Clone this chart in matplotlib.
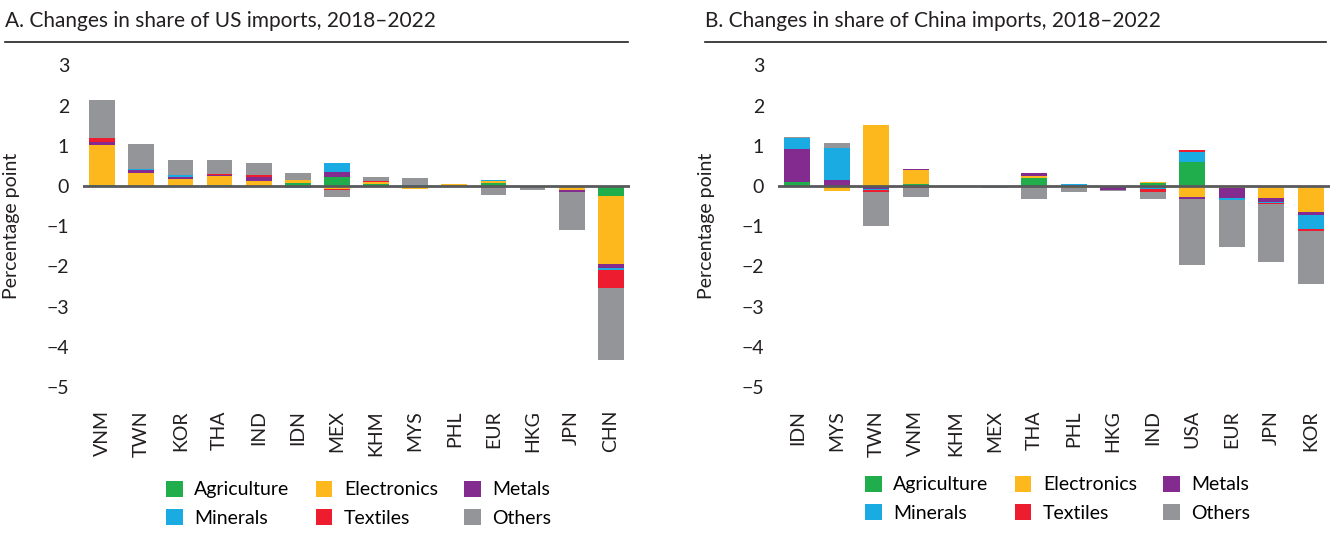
import numpy as np
import matplotlib
matplotlib.use("Agg")
import matplotlib.pyplot as plt
from matplotlib.patches import Patch
from matplotlib.lines import Line2D

plt.rcParams['font.family'] = ['Lato', 'DejaVu Sans']
plt.rcParams['axes.unicode_minus'] = True

sectors = ['Agriculture', 'Electronics', 'Metals', 'Minerals', 'Textiles', 'Others']
colors = ['#1fae4b', '#fdb81e', '#832b8f', '#1aabe2', '#ed1c2e', '#939598']

# panel A: changes in share of US imports (percentage points)
us_partners = ['VNM', 'TWN', 'KOR', 'THA', 'IND', 'IDN', 'MEX', 'KHM', 'MYS', 'PHL', 'EUR', 'HKG', 'JPN', 'CHN']
us_agri     = [0.02, 0.00, 0.00, 0.02, 0.00, 0.07, 0.21, 0.06, 0.00, 0.00, 0.08, 0.00, 0.01, -0.26]
us_elec     = [1.00, 0.33, 0.17, 0.22, 0.12, 0.08, -0.07, 0.03, -0.07, 0.04, 0.04, -0.02, -0.09, -1.69]
us_metals   = [0.07, 0.06, 0.06, 0.04, 0.10, 0.00, 0.14, 0.00, 0.00, 0.00, 0.00, 0.00, -0.05, -0.08]
us_minerals = [0.00, 0.02, 0.05, 0.00, 0.00, -0.04, 0.21, -0.02, 0.03, 0.00, 0.03, 0.00, 0.00, -0.05]
us_textiles = [0.10, 0.00, 0.00, 0.01, 0.04, 0.00, -0.03, 0.04, 0.00, 0.00, 0.00, 0.00, 0.00, -0.45]
us_others   = [0.95, 0.64, 0.36, 0.35, 0.31, 0.17, -0.18, 0.09, 0.17, -0.02, -0.23, -0.08, -0.96, -1.80]

# panel B: changes in share of China imports (percentage points)
cn_partners = ['IDN', 'MYS', 'TWN', 'VNM', 'KHM', 'MEX', 'THA', 'PHL', 'HKG', 'IND', 'USA', 'EUR', 'JPN', 'KOR']
cn_agri     = [0.10, 0.00, 0.00, 0.05, 0.00, 0.00, 0.19, 0.00, 0.00, 0.07, 0.59, 0.00, 0.00, 0.00]
cn_elec     = [0.00, -0.12, 1.51, 0.34, 0.00, 0.00, 0.06, -0.05, 0.00, 0.02, -0.28, -0.06, -0.29, -0.66]
cn_metals   = [0.81, 0.16, -0.08, 0.02, 0.00, -0.02, 0.07, 0.00, -0.09, -0.03, -0.04, -0.23, -0.10, -0.06]
cn_minerals = [0.28, 0.79, -0.03, 0.00, 0.00, 0.00, -0.02, 0.04, 0.00, -0.05, 0.25, -0.05, -0.03, -0.36]
cn_textiles = [-0.03, 0.00, -0.05, -0.05, 0.00, 0.00, 0.00, 0.00, 0.00, -0.06, 0.05, 0.00, -0.04, -0.05]
cn_others   = [0.03, 0.13, -0.84, -0.22, -0.01, -0.02, -0.31, -0.11, -0.03, -0.18, -1.65, -1.17, -1.42, -1.30]

us_data = [us_agri, us_elec, us_metals, us_minerals, us_textiles, us_others]
cn_data = [cn_agri, cn_elec, cn_metals, cn_minerals, cn_textiles, cn_others]

fig = plt.figure(figsize=(13.33, 5.41), dpi=100)
W, H = 1333, 541


def stacked(ax, partners, data):
    x = np.arange(len(partners))
    pos = np.zeros(len(partners))
    neg = np.zeros(len(partners))
    for vals, c in zip(data, colors):
        v = np.array(vals)
        p = np.where(v > 0, v, 0)
        n = np.where(v < 0, v, 0)
        ax.bar(x, p, 0.66, bottom=pos, color=c, linewidth=0)
        ax.bar(x, n, 0.66, bottom=neg, color=c, linewidth=0)
        pos += p
        neg += n
    ax.axhline(0, color='#58595b', lw=2, zorder=5)
    ax.set_xlim(-0.49, len(partners) - 0.51)
    ax.set_ylim(-5.3, 3.3)
    ax.set_yticks(range(-5, 4))
    ax.set_xticks(x)
    ax.set_xticklabels(partners, rotation=90)
    ax.tick_params(length=0, labelsize=14, colors='#231f20')
    ax.tick_params(axis='y', pad=10)
    ax.tick_params(axis='x', pad=8)
    for s in ax.spines.values():
        s.set_visible(False)
    ax.set_ylabel('Percentage point', fontsize=14, color='#231f20')
    ax.yaxis.set_label_coords(-0.115, 0.5)


ax1 = fig.add_axes([83 / W, 0.2625, 547 / W, 0.639])
stacked(ax1, us_partners, us_data)
ax2 = fig.add_axes([778 / W, 0.2625, 552 / W, 0.639])
stacked(ax2, cn_partners, cn_data)

fig.text(5 / W, 1 - 21 / H, 'A. Changes in share of US imports, 2018–2022',
         fontsize=15, va='center', color='#231f20')
fig.text(705 / W, 1 - 21 / H, 'B. Changes in share of China imports, 2018–2022',
         fontsize=15, va='center', color='#231f20')
fig.add_artist(Line2D([5 / W, 628 / W], [1 - 41.5 / H] * 2, color='#231f20', lw=1.2))
fig.add_artist(Line2D([705 / W, 1326 / W], [1 - 41.5 / H] * 2, color='#231f20', lw=1.2))

# legend order filled column-wise
order = [0, 3, 1, 4, 2, 5]
handles = [Patch(facecolor=colors[i], label=sectors[i]) for i in order]
for x0, y0 in [(166, 481), (865, 476)]:
    fig.legend(handles=handles, ncol=3, loc='upper left',
               bbox_to_anchor=(x0 / W, 1 - y0 / H), frameon=False,
               fontsize=14, handlelength=0.85, handleheight=0.85,
               handletextpad=0.6, columnspacing=1.35, labelspacing=0.55,
               borderpad=0, borderaxespad=0)

fig.savefig('out.png', dpi=100)
